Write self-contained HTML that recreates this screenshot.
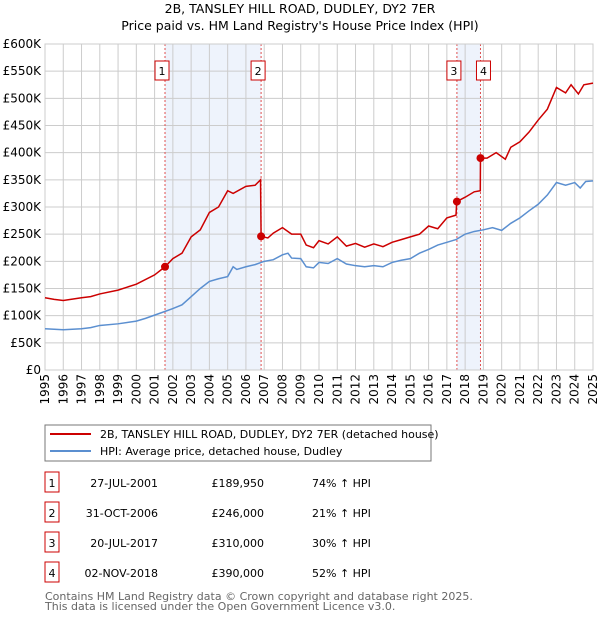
<!DOCTYPE html>
<html><head><meta charset="utf-8"><style>
body{margin:0;background:#fff;font-family:"DejaVu Sans","Liberation Sans",sans-serif;}
svg text{font-family:"DejaVu Sans","Liberation Sans",sans-serif;}
</style></head><body>
<svg id="c" width="600" height="620" xmlns="http://www.w3.org/2000/svg">
<text x="300" y="13" text-anchor="middle" font-size="12.5">2B, TANSLEY HILL ROAD, DUDLEY, DY2 7ER</text>
<text x="300" y="30" text-anchor="middle" font-size="12.5">Price paid vs. HM Land Registry's House Price Index (HPI)</text>
<g id="plot"></g>
<rect x="45" y="425" width="386" height="36" fill="#fff" stroke="#777"/>
<line x1="50" y1="434" x2="91" y2="434" stroke="#cc0000" stroke-width="2"/>
<text x="100" y="438" font-size="11">2B, TANSLEY HILL ROAD, DUDLEY, DY2 7ER (detached house)</text>
<line x1="50" y1="451" x2="91" y2="451" stroke="#5b8fd0" stroke-width="2"/>
<text x="100" y="455" font-size="11">HPI: Average price, detached house, Dudley</text>
<g id="table" font-size="11"></g>
<text x="45" y="600" font-size="11" fill="#666">Contains HM Land Registry data © Crown copyright and database right 2025.</text>
<text x="45" y="610" font-size="11" fill="#666">This data is licensed under the Open Government Licence v3.0.</text>
</svg>
<script>
const hpiYears=[1995,1995.5,1996,1997,1997.5,1998,1999,2000,2000.5,2001,2001.5,2002,2002.5,2003,2003.5,2004,2004.5,2005,2005.3,2005.5,2006,2006.5,2007,2007.5,2008,2008.3,2008.5,2009,2009.3,2009.7,2010,2010.5,2011,2011.5,2012,2012.5,2013,2013.5,2014,2014.5,2015,2015.5,2016,2016.5,2017,2017.5,2018,2018.5,2019,2019.5,2020,2020.5,2021,2021.5,2022,2022.5,2023,2023.5,2024,2024.3,2024.6,2025];
const hpiValues=[76,75,74,76,78,82,85,90,95,101,107,113,120,135,150,163,168,172,190,185,190,194,200,203,212,215,206,205,190,188,198,196,205,195,192,190,192,190,198,202,205,215,222,230,235,240,250,255,258,262,257,270,280,293,305,322,345,340,345,335,347,348];
const priceYears=[1995,1995.5,1996,1997,1997.5,1998,1999,2000,2001,2001.57,2002,2002.5,2003,2003.5,2004,2004.5,2005,2005.3,2006,2006.5,2006.8,2006.83,2007.2,2007.5,2008,2008.5,2009,2009.3,2009.7,2010,2010.5,2011,2011.5,2012,2012.5,2013,2013.5,2014,2014.5,2015,2015.5,2016,2016.5,2017,2017.5,2017.54,2018,2018.5,2018.83,2018.84,2019.2,2019.7,2020.2,2020.5,2021,2021.5,2022,2022.5,2023,2023.5,2023.8,2024.2,2024.5,2025];
const priceValues=[133,130,128,133,135,140,147,158,175,190,205,215,245,258,290,300,330,325,338,340,350,246,243,252,262,250,250,230,225,238,232,245,228,233,226,232,227,235,240,245,250,265,260,280,285,310,318,328,330,390,390,400,388,410,420,438,460,480,520,510,525,508,525,528];
const saleLabels=["1","2","3","4"];
const saleYears=[2001.57,2006.83,2017.55,2018.84];
const saleValues=[189.95,246,310,390];
const saleDates=["27-JUL-2001","31-OCT-2006","20-JUL-2017","02-NOV-2018"];
const salePrices=["£189,950","£246,000","£310,000","£390,000"];
const saleHpi=["74% ↑ HPI","21% ↑ HPI","30% ↑ HPI","52% ↑ HPI"];
const yTicks=[0,50,100,150,200,250,300,350,400,450,500,550,600];
const yTickLabels=["£0","£50K","£100K","£150K","£200K","£250K","£300K","£350K","£400K","£450K","£500K","£550K","£600K"];
const xTicks=[1995,1996,1997,1998,1999,2000,2001,2002,2003,2004,2005,2006,2007,2008,2009,2010,2011,2012,2013,2014,2015,2016,2017,2018,2019,2020,2021,2022,2023,2024,2025];

const X0=45,X1=593,Y0=370,Y1=44;
const xs=y=>X0+(y-1995)/30*(X1-X0);
const ys=v=>Y0-v/600*(Y0-Y1);
const NS="http://www.w3.org/2000/svg";
const plot=document.getElementById('plot');
function mk(tag,attrs,parent){const e=document.createElementNS(NS,tag);for(const k in attrs)e.setAttribute(k,attrs[k]);(parent||plot).appendChild(e);return e;}

// shaded spans
for(let i=0;i<4;i+=2){
  const r=mk('rect',{x:xs(saleYears[i]),y:Y1,width:xs(saleYears[i+1])-xs(saleYears[i]),height:Y0-Y1,fill:'#eef3fc'});
  
  
}
// grid
yTicks.forEach((t,i)=>{
  const l=mk('line',{x1:X0,x2:X1,y1:ys(t),y2:ys(t),stroke:'#cccccc'});
  
  
  const tx=mk('text',{x:X0-4,y:ys(t)+4,'text-anchor':'end','font-size':'12'});
  tx.textContent=yTickLabels[i];
  
  
});
xTicks.forEach(t=>{
  const l=mk('line',{x1:xs(t),x2:xs(t),y1:Y1,y2:Y0,stroke:'#cccccc'});
  
  
  const tx=mk('text',{x:0,y:0,'text-anchor':'end','font-size':'12',transform:`translate(${xs(t)+4},374) rotate(-90)`});
  tx.textContent=t;
  
  
});
// sale vlines + labels
saleYears.forEach((s,i)=>{
  const l=mk('line',{x1:xs(s),x2:xs(s),y1:Y1,y2:Y0,stroke:'#e05050','stroke-dasharray':'2,2'});
  
  
  const bx=(i==2)?xs(s)-10:(i==3?xs(s)-4:xs(s)-10);
  const r=mk('rect',{x:bx,y:61,width:14,height:19,fill:'#fff',stroke:'#cc0000'});
  
  
  const tx=mk('text',{x:bx+7,y:75,'text-anchor':'middle','font-size':'11'});
  tx.textContent=saleLabels[i];
  
  
});
mk('rect',{x:X0,y:Y1,width:X1-X0,height:Y0-Y1,fill:'none',stroke:'#cccccc'});
const p1=mk('polyline',{points:hpiYears.map((y,i)=>xs(y)+','+ys(hpiValues[i])).join(' '),fill:'none',stroke:'#5b8fd0','stroke-width':'1.5'});


const p2=mk('polyline',{points:priceYears.map((y,i)=>xs(y)+','+ys(priceValues[i])).join(' '),fill:'none',stroke:'#cc0000','stroke-width':'1.5'});


saleYears.forEach((s,i)=>{
  const c=mk('circle',{cx:xs(s),cy:ys(saleValues[i]),r:4,fill:'#cc0000'});
  
  
});
// table
const tb=document.getElementById('table');
saleLabels.forEach((l,i)=>{
  const y=483+i*30;
  const r=mk('rect',{x:45,y:y-11,width:14,height:20,fill:'#fff',stroke:'#cc0000'},tb);
  
  
  const vals=[[52,l,'middle'],[158,saleDates[i],'end'],[264,salePrices[i],'end'],[312,saleHpi[i],'start']];
  vals.forEach(v=>{
    const t=mk('text',{x:v[0],y:y+4,'text-anchor':v[2]},tb);
    t.textContent=v[1];
    
    
  });
});
</script>
</body></html>
